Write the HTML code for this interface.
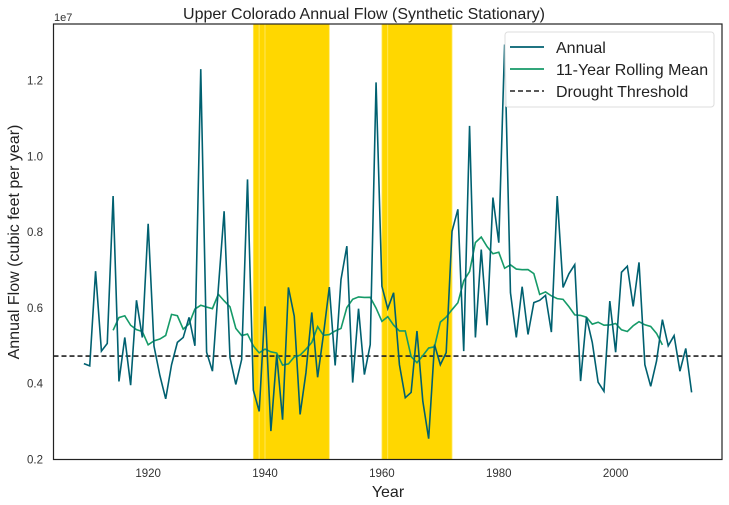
<!DOCTYPE html>
<html><head><meta charset="utf-8"><style>
body{margin:0;background:#fff;}
svg{display:block;font-family:"Liberation Sans",Arial,sans-serif;}
</style></head><body>
<svg id="chart" width="729" height="505" viewBox="0 0 729 505" xmlns="http://www.w3.org/2000/svg">
<g id="spans"></g>
<g id="marks"></g>
<rect x="53.5" y="24" width="668.5" height="435.5" fill="none" stroke="#222" stroke-width="1.2"/>
<g id="ticks"></g>
<text x="364" y="19" font-size="16" text-anchor="middle" fill="#222">Upper Colorado Annual Flow (Synthetic Stationary)</text>
<text x="54" y="21" font-size="11" fill="#333">1e7</text>
<text x="388" y="497" font-size="16" text-anchor="middle" fill="#222">Year</text>
<text x="14" y="242" font-size="16" text-anchor="middle" fill="#222" transform="rotate(-90 14 242)" dy="5">Annual Flow (cubic feet per year)</text>
<g>
<rect x="505" y="32" width="209" height="75" rx="3" fill="#fff" fill-opacity="0.85" stroke="#ddd"/>
<line x1="510" y1="47" x2="544" y2="47" stroke="#006070" stroke-width="1.8"/>
<text x="556" y="53" font-size="16" fill="#222">Annual</text>
<line x1="510" y1="69" x2="544" y2="69" stroke="#159a68" stroke-width="1.8"/>
<text x="556" y="75" font-size="16" fill="#222">11-Year Rolling Mean</text>
<line x1="510" y1="91" x2="544" y2="91" stroke="#222" stroke-width="1.6" stroke-dasharray="5,3"/>
<text x="556" y="97" font-size="16" fill="#222">Drought Threshold</text>
</g>
</svg>
<script>
const startYear = 1909;
const annual = [4.53,4.47,6.97,4.86,5.06,8.95,4.06,5.22,3.96,6.2,5.22,8.22,4.99,4.22,3.6,4.5,5.09,5.22,5.75,5.0,
12.3,4.83,4.33,6.5,8.55,4.69,3.98,4.64,9.39,3.83,3.27,6.04,2.75,4.77,3.05,6.54,5.78,3.19,4.29,5.88,
4.17,5.3,6.55,4.48,6.75,7.63,4.03,5.98,4.24,5.03,11.95,6.57,5.98,6.4,4.5,3.63,3.77,5.39,3.54,2.55,
5.03,4.5,4.82,8.02,8.6,4.86,10.8,5.22,7.54,5.54,8.91,7.72,12.95,6.4,5.22,6.56,5.3,6.14,6.2,6.33,
5.36,8.95,6.54,6.9,7.14,4.07,5.75,5.09,4.04,3.8,6.18,4.83,6.94,7.1,6.04,7.2,4.5,3.93,4.6,5.69,
5.0,5.27,4.33,4.93,3.77];
const threshold = 4.73;
const droughtSpans = [[1938,1939],[1939,1940],[1940,1951],[1960,1961],[1961,1972]];
const xTicks = [1920,1940,1960,1980,2000];
const yTicks = [0.2,0.4,0.6,0.8,1.0,1.2];
const years = annual.map((v,i)=>startYear+i);
const X0=53.5,X1=722,Y0=459.5,Y1=24;
const xMin=1903.8,xMax=2018.2,yMin=2.0,yMax=13.49;
const xs=v=>X0+(v-xMin)/(xMax-xMin)*(X1-X0);
const ys=v=>Y0-(v-yMin)/(yMax-yMin)*(Y0-Y1);
const NS="http://www.w3.org/2000/svg";
function mk(tag,attrs,parent){const e=document.createElementNS(NS,tag);for(const k in attrs)e.setAttribute(k,attrs[k]);parent.appendChild(e);return e;}
const spansG=document.getElementById('spans'),marks=document.getElementById('marks'),ticks=document.getElementById('ticks');
droughtSpans.forEach(s=>{
  const r=mk('rect',{x:xs(s[0]),y:Y1,width:xs(s[1])-xs(s[0]),height:Y0-Y1,fill:'#ffd700',stroke:'#ffe866','stroke-width':0.8},spansG);
  
  
});
const rollYears=[],rollVals=[];
for(let i=5;i<annual.length-5;i++){let s=0;for(let j=i-5;j<=i+5;j++)s+=annual[j];rollYears.push(years[i]);rollVals.push(s/11);}
const t=mk('line',{x1:X0,x2:X1,y1:ys(threshold),y2:ys(threshold),stroke:'#222','stroke-width':1.6,'stroke-dasharray':'5,3'},marks);


const rl=mk('polyline',{points:rollYears.map((y,i)=>xs(y)+','+ys(rollVals[i])).join(' '),fill:'none',stroke:'#159a68','stroke-width':1.6},marks);


const al=mk('polyline',{points:years.map((y,i)=>xs(y)+','+ys(annual[i])).join(' '),fill:'none',stroke:'#006070','stroke-width':1.6},marks);


xTicks.forEach(v=>{
  const tx=mk('text',{x:xs(v),y:477,'font-size':11.5,'text-anchor':'middle',fill:'#333'},ticks);
  tx.textContent=v;
  
  
});
yTicks.forEach(v=>{
  const ty=mk('text',{x:43,y:ys(v*10)+4,'font-size':11.5,'text-anchor':'end',fill:'#333'},ticks);
  ty.textContent=v.toFixed(1);
  
  
});
</script>
</body></html>
